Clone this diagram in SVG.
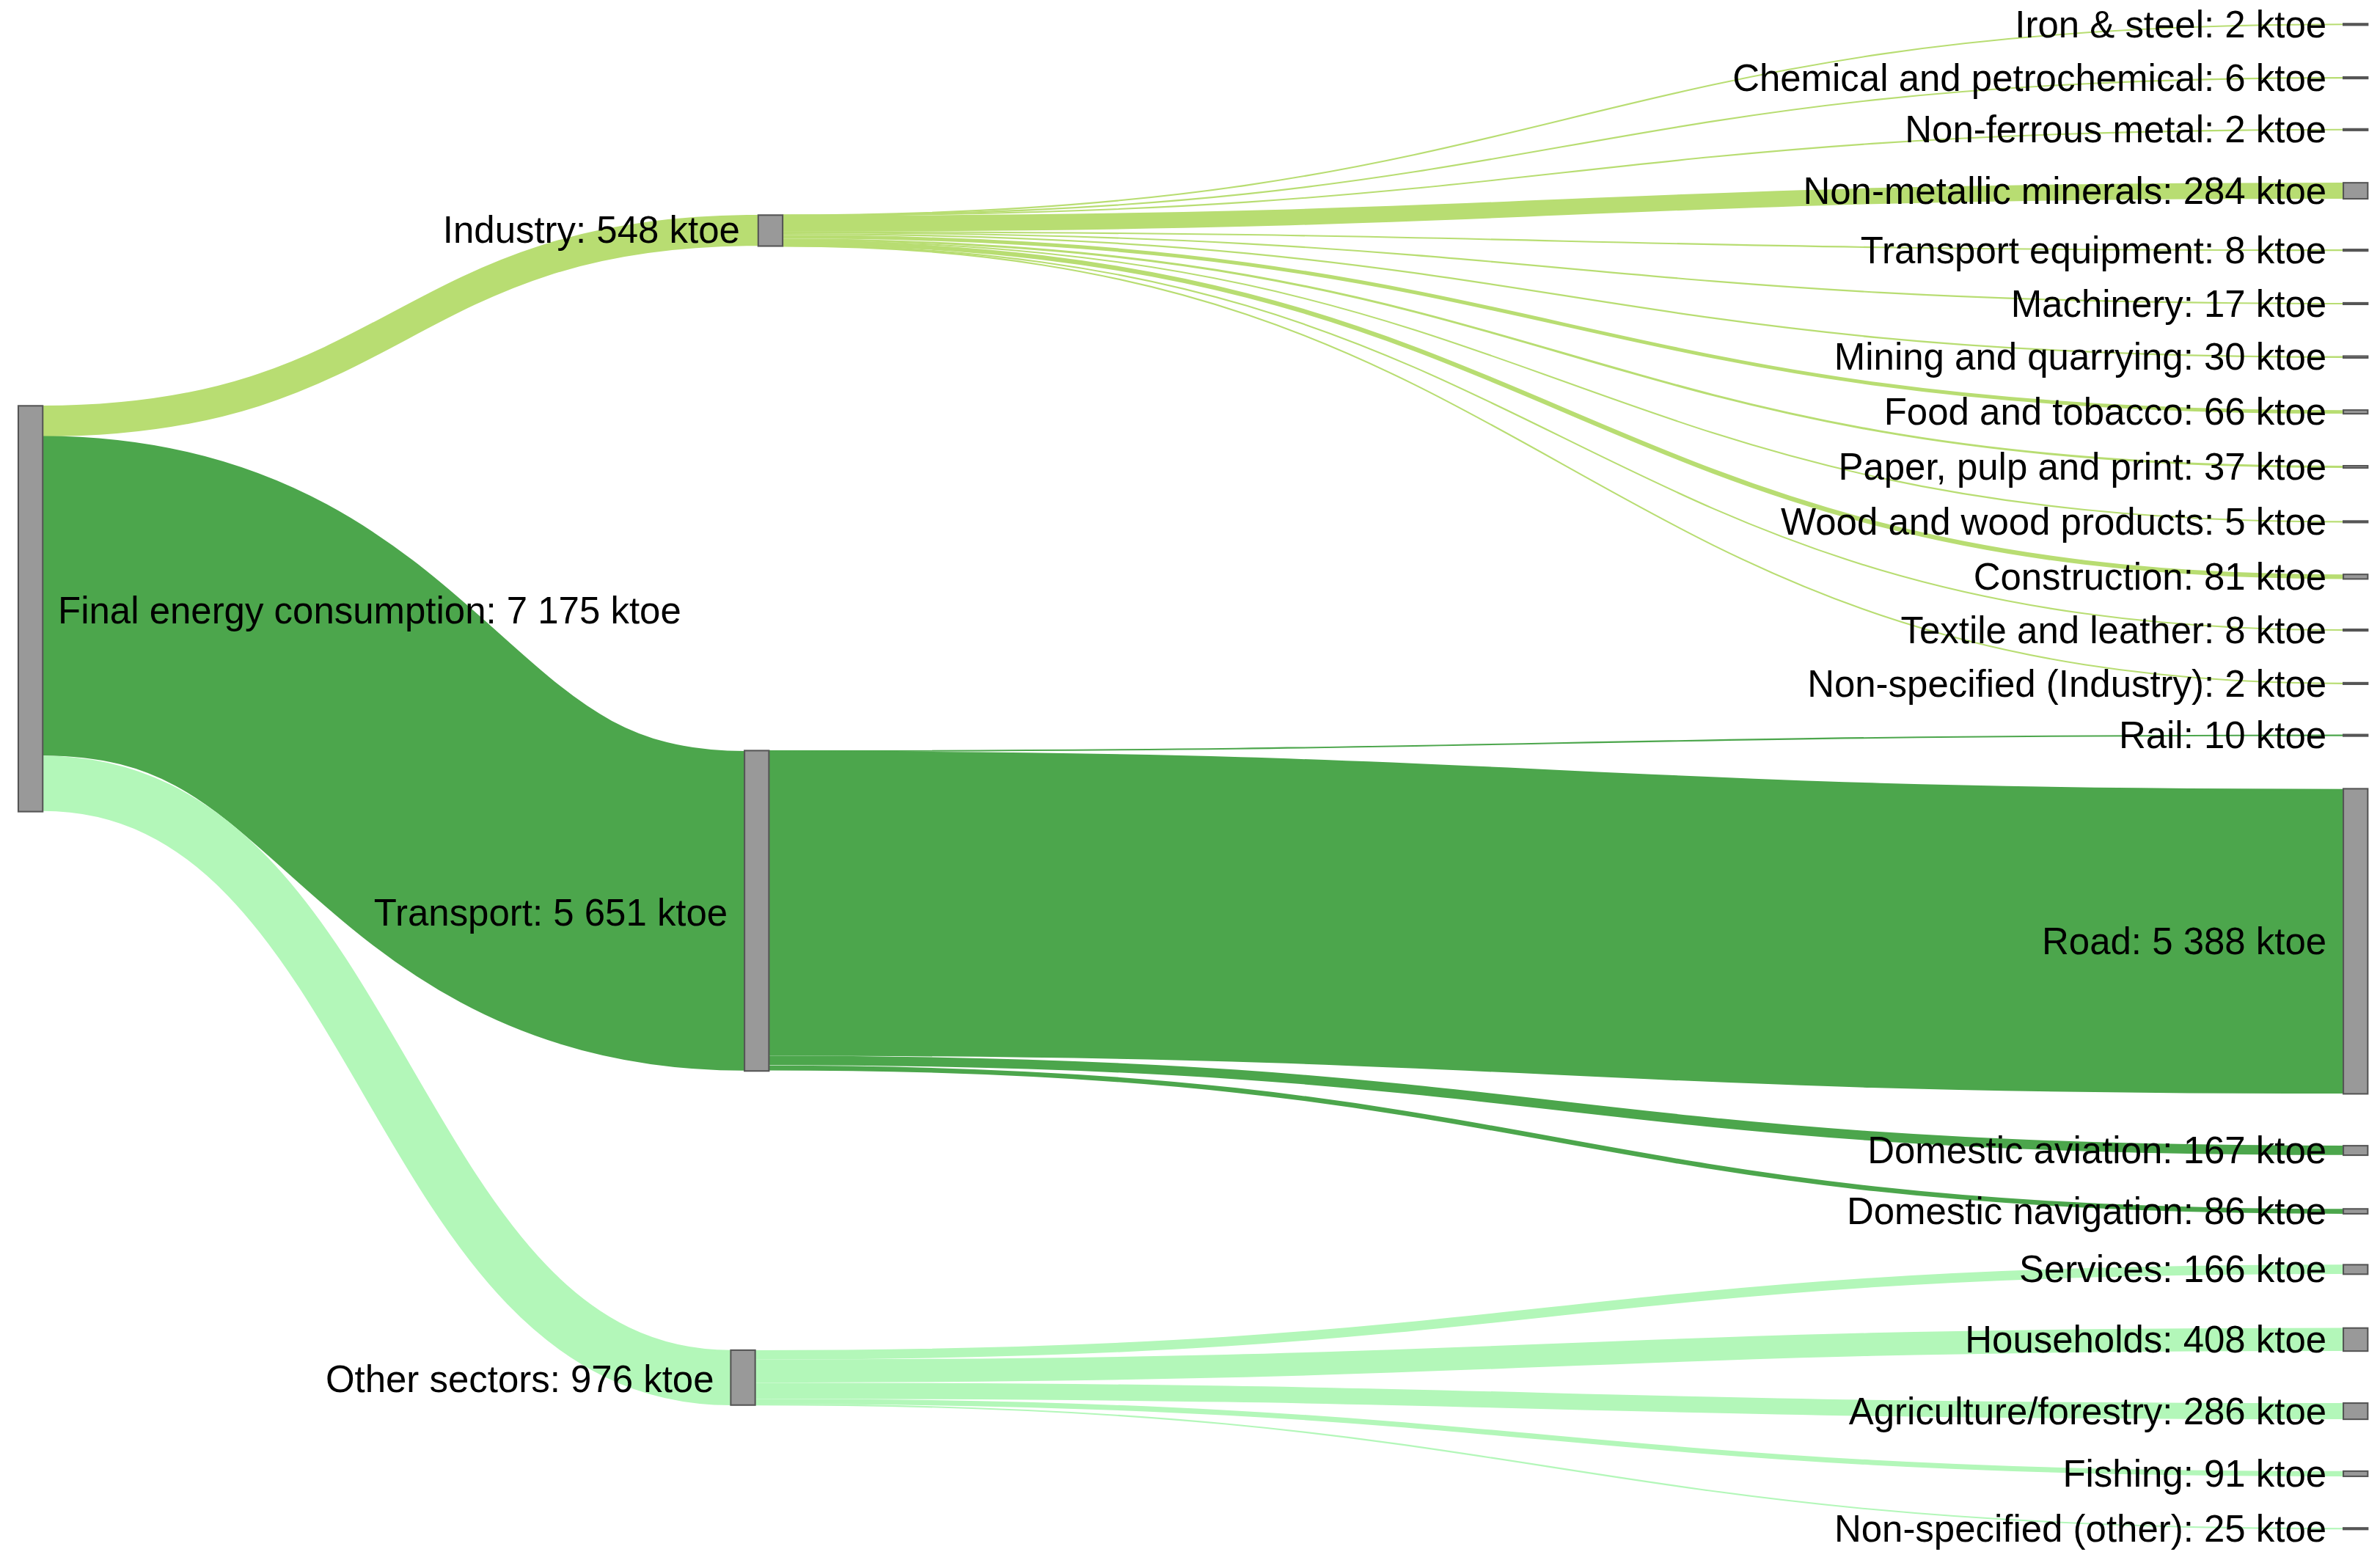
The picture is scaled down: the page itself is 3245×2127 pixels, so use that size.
<svg xmlns="http://www.w3.org/2000/svg" width="3245" height="2127" viewBox="0 0 3245 2127">
<style>
.l{fill:none}
.i{stroke:#b8dd72}
.t{stroke:#4ca64c}
.o{stroke:#b3f7b9}
.n{fill:#999;stroke:#555;stroke-width:1}
text{font-family:"Liberation Sans",Arial,sans-serif;font-size:24.5px;fill:#000}
.e{text-anchor:end}
</style>
<rect width="3245" height="2127" fill="#fff"/>
<g transform="scale(2.0801)">
<g id="connectors">
<path class="l i" stroke-width="20.3" d="M28,276 C262,276 262,151 497,151"/>
<path class="l t" stroke-width="209.5" d="M28,390.5 C258,390.5 258,597 488,597"/>
<path class="l o" stroke-width="36.2" d="M28,513.5 C254,513.5 254,903 479,903"/>
<path class="l i" stroke-width="1" d="M513,141 C1025,141 1025,16 1536,16"/>
<path class="l i" stroke-width="1" d="M513,141.2 C1025,141.2 1025,51 1536,51"/>
<path class="l i" stroke-width="1" d="M513,141.3 C1025,141.3 1025,85 1536,85"/>
<path class="l i" stroke-width="10.5" d="M513,146.6 C1025,146.6 1025,125 1536,125"/>
<path class="l i" stroke-width="1" d="M513,152 C1025,152 1025,164 1536,164"/>
<path class="l i" stroke-width="1" d="M513,152.5 C1025,152.5 1025,199 1536,199"/>
<path class="l i" stroke-width="1.1" d="M513,153.4 C1025,153.4 1025,234 1536,234"/>
<path class="l i" stroke-width="2.4" d="M513,155.2 C1025,155.2 1025,270 1536,270"/>
<path class="l i" stroke-width="1.4" d="M513,157.1 C1025,157.1 1025,306 1536,306"/>
<path class="l i" stroke-width="1" d="M513,157.9 C1025,157.9 1025,342 1536,342"/>
<path class="l i" stroke-width="3" d="M513,159.4 C1025,159.4 1025,378 1536,378"/>
<path class="l i" stroke-width="1" d="M513,161 C1025,161 1025,413 1536,413"/>
<path class="l i" stroke-width="1" d="M513,161.3 C1025,161.3 1025,448 1536,448"/>
<path class="l t" stroke-width="1" d="M504,492.3 C1020,492.3 1020,482 1536,482"/>
<path class="l t" stroke-width="199.7" d="M504,592.2 C1020,592.2 1020,617 1536,617"/>
<path class="l t" stroke-width="6.2" d="M504,695.1 C1020,695.1 1020,754 1536,754"/>
<path class="l t" stroke-width="3.2" d="M504,700 C1020,700 1020,794 1536,794"/>
<path class="l o" stroke-width="6.2" d="M495,888.1 C1015,888.1 1015,832 1536,832"/>
<path class="l o" stroke-width="15.1" d="M495,898.7 C1015,898.7 1015,878 1536,878"/>
<path class="l o" stroke-width="10.6" d="M495,911.6 C1015,911.6 1015,925 1536,925"/>
<path class="l o" stroke-width="3.4" d="M495,918.6 C1015,918.6 1015,966 1536,966"/>
<path class="l o" stroke-width="1" d="M495,920.7 C1015,920.7 1015,1002 1536,1002"/>
</g>
<g id="n-final"><rect class="n" x="12" y="266" width="16" height="266"/><text x="38" y="408.5">Final energy consumption: 7 175 ktoe</text></g>
<g id="n-industry"><rect class="n" x="497" y="141" width="16" height="20.3"/><text class="e" x="485" y="159">Industry: 548 ktoe</text></g>
<g id="n-transport"><rect class="n" x="488" y="492" width="16" height="210"/><text class="e" x="477" y="606.5">Transport: 5 651 ktoe</text></g>
<g id="n-other"><rect class="n" x="479" y="885" width="16" height="36"/><text class="e" x="468" y="912.5">Other sectors: 976 ktoe</text></g>
<g id="n-iron"><rect class="n" x="1536" y="15.5" width="16" height="1"/><text class="e" x="1525" y="24.5">Iron &amp; steel: 2 ktoe</text></g>
<g id="n-chem"><rect class="n" x="1536" y="50.5" width="16" height="1"/><text class="e" x="1525" y="59.5">Chemical and petrochemical: 6 ktoe</text></g>
<g id="n-nonfer"><rect class="n" x="1536" y="84.5" width="16" height="1"/><text class="e" x="1525" y="93.5">Non-ferrous metal: 2 ktoe</text></g>
<g id="n-nonmet"><rect class="n" x="1536" y="119.8" width="16" height="10.5"/><text class="e" x="1525" y="133.5">Non-metallic minerals: 284 ktoe</text></g>
<g id="n-teq"><rect class="n" x="1536" y="163.5" width="16" height="1"/><text class="e" x="1525" y="172.5">Transport equipment: 8 ktoe</text></g>
<g id="n-mach"><rect class="n" x="1536" y="198.5" width="16" height="1"/><text class="e" x="1525" y="207.5">Machinery: 17 ktoe</text></g>
<g id="n-mining"><rect class="n" x="1536" y="233.4" width="16" height="1.2"/><text class="e" x="1525" y="242.5">Mining and quarrying: 30 ktoe</text></g>
<g id="n-food"><rect class="n" x="1536" y="268.8" width="16" height="2.4"/><text class="e" x="1525" y="278.5">Food and tobacco: 66 ktoe</text></g>
<g id="n-paper"><rect class="n" x="1536" y="305.3" width="16" height="1.4"/><text class="e" x="1525" y="314.5">Paper, pulp and print: 37 ktoe</text></g>
<g id="n-wood"><rect class="n" x="1536" y="341.5" width="16" height="1"/><text class="e" x="1525" y="350.5">Wood and wood products: 5 ktoe</text></g>
<g id="n-constr"><rect class="n" x="1536" y="376.5" width="16" height="3"/><text class="e" x="1525" y="386.5">Construction: 81 ktoe</text></g>
<g id="n-textile"><rect class="n" x="1536" y="412.5" width="16" height="1"/><text class="e" x="1525" y="421.5">Textile and leather: 8 ktoe</text></g>
<g id="n-nsind"><rect class="n" x="1536" y="447.5" width="16" height="1"/><text class="e" x="1525" y="456.5">Non-specified (Industry): 2 ktoe</text></g>
<g id="n-rail"><rect class="n" x="1536" y="481.5" width="16" height="1"/><text class="e" x="1525" y="490.5">Rail: 10 ktoe</text></g>
<g id="n-road"><rect class="n" x="1536" y="517" width="16" height="200"/><text class="e" x="1525" y="625.5">Road: 5 388 ktoe</text></g>
<g id="n-aviation"><rect class="n" x="1536" y="751" width="16" height="6.2"/><text class="e" x="1525" y="762.5">Domestic aviation: 167 ktoe</text></g>
<g id="n-navigation"><rect class="n" x="1536" y="792.4" width="16" height="3.2"/><text class="e" x="1525" y="802.5">Domestic navigation: 86 ktoe</text></g>
<g id="n-services"><rect class="n" x="1536" y="829" width="16" height="6.2"/><text class="e" x="1525" y="840.5">Services: 166 ktoe</text></g>
<g id="n-households"><rect class="n" x="1536" y="870.5" width="16" height="15.1"/><text class="e" x="1525" y="886.5">Households: 408 ktoe</text></g>
<g id="n-agri"><rect class="n" x="1536" y="919.7" width="16" height="10.6"/><text class="e" x="1525" y="933.5">Agriculture/forestry: 286 ktoe</text></g>
<g id="n-fishing"><rect class="n" x="1536" y="964.3" width="16" height="3.4"/><text class="e" x="1525" y="974.5">Fishing: 91 ktoe</text></g>
<g id="n-nsother"><rect class="n" x="1536" y="1001.5" width="16" height="1"/><text class="e" x="1525" y="1010.5">Non-specified (other): 25 ktoe</text></g>
</g>
</svg>
